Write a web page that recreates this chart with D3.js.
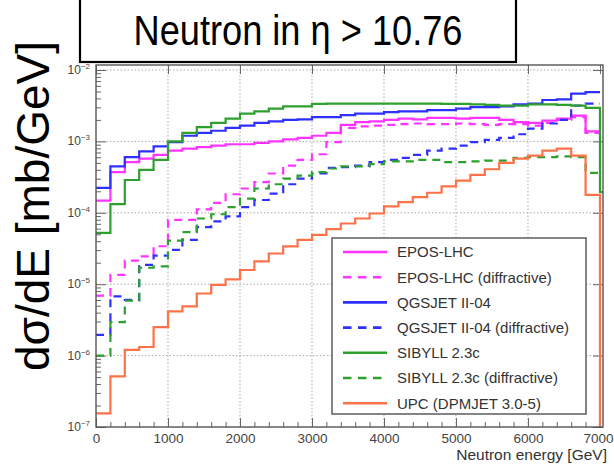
<!DOCTYPE html>
<html><head><meta charset="utf-8">
<script src="https://cdn.jsdelivr.net/npm/d3@7"></script>
<style>
body{margin:0;background:#fff;}
svg{display:block;font-family:"Liberation Sans",Arial,sans-serif;}
</style>
</head><body>
<svg id="c" width="614" height="465"></svg>
<script>
// ---------- data (bin width 200 GeV, bins start at 0) ----------
const binWidth = 200;
const eposLHC = [1.48e-4,3.72e-4,5.13e-4,5.75e-4,6.46e-4,7.41e-4,7.94e-4,8.32e-4,8.71e-4,9.12e-4,
  9.12e-4,9.55e-4,1.0e-3,1.07e-3,1.12e-3,1.20e-3,1.32e-3,1.70e-3,1.86e-3,1.91e-3,
  2.0e-3,2.09e-3,2.04e-3,2.14e-3,2.14e-3,2.09e-3,2.14e-3,2.14e-3,2.0e-3,1.86e-3,
  1.82e-3,1.95e-3,2.09e-3,2.29e-3,1.38e-3];
const eposLHCDiff = [6.9e-6,1.35e-5,2.14e-5,2.45e-5,3.4e-5,7.94e-5,7.94e-5,1.12e-4,1.38e-4,1.82e-4,
  2.19e-4,2.69e-4,3.55e-4,4.57e-4,5.50e-4,6.61e-4,9.8e-4,1.55e-3,1.62e-3,1.66e-3,
  1.70e-3,1.74e-3,1.78e-3,1.74e-3,1.74e-3,1.78e-3,1.74e-3,1.70e-3,1.74e-3,1.74e-3,
  1.66e-3,1.82e-3,2.0e-3,2.19e-3,1.32e-3];
const qgsjet = [2.24e-4,4.47e-4,6.03e-4,7.24e-4,8.51e-4,9.77e-4,1.20e-3,1.32e-3,1.41e-3,1.55e-3,
  1.66e-3,1.82e-3,1.91e-3,2.0e-3,2.04e-3,2.19e-3,2.19e-3,2.34e-3,2.45e-3,2.45e-3,
  2.57e-3,2.63e-3,2.63e-3,2.75e-3,2.75e-3,2.88e-3,3.02e-3,3.02e-3,3.09e-3,3.31e-3,
  3.39e-3,3.80e-3,3.89e-3,4.68e-3,4.90e-3];
const qgsjetDiff = [1.95e-6,6.76e-6,6.03e-6,1.86e-5,2.51e-5,3.02e-5,4.17e-5,6.31e-5,7.59e-5,8.91e-5,
  1.20e-4,1.51e-4,1.86e-4,2.51e-4,3.02e-4,3.55e-4,4.27e-4,4.37e-4,4.57e-4,5.13e-4,
  5.50e-4,5.89e-4,6.46e-4,7.41e-4,7.94e-4,8.71e-4,9.77e-4,1.05e-3,1.12e-3,1.26e-3,
  1.51e-3,1.78e-3,2.0e-3,3.16e-3,3.39e-3];
const sibyll = [5.25e-5,1.32e-4,2.88e-4,3.98e-4,5.50e-4,1.0e-3,1.32e-3,1.58e-3,1.82e-3,2.09e-3,
  2.45e-3,2.63e-3,2.88e-3,3.09e-3,3.09e-3,3.35e-3,3.39e-3,3.39e-3,3.39e-3,3.39e-3,
  3.39e-3,3.39e-3,3.39e-3,3.39e-3,3.35e-3,3.35e-3,3.31e-3,3.24e-3,3.16e-3,3.16e-3,
  3.31e-3,3.31e-3,3.24e-3,3.16e-3,2.95e-3,1.95e-4];
const sibyllDiff = [1.0e-6,2.95e-6,5.89e-6,1.70e-5,1.78e-5,4.07e-5,5.37e-5,8.32e-5,9.55e-5,1.20e-4,
  1.58e-4,2.19e-4,2.51e-4,3.02e-4,3.31e-4,3.72e-4,4.17e-4,4.47e-4,4.47e-4,4.79e-4,
  5.25e-4,5.25e-4,5.50e-4,5.50e-4,5.13e-4,5.13e-4,5.25e-4,5.37e-4,5.37e-4,5.89e-4,
  6.03e-4,6.03e-4,6.17e-4,6.03e-4,3.63e-4];
const upcDpmjet = [1.55e-7,5.13e-7,1.20e-6,1.32e-6,2.51e-6,4.17e-6,4.90e-6,7.41e-6,9.77e-6,1.17e-5,
  1.58e-5,2.09e-5,2.69e-5,3.39e-5,4.17e-5,4.90e-5,5.89e-5,7.08e-5,8.32e-5,9.77e-5,
  1.23e-4,1.41e-4,1.66e-4,1.91e-4,2.34e-4,2.82e-4,3.39e-4,4.07e-4,5.01e-4,5.75e-4,
  6.31e-4,7.41e-4,7.94e-4,6.31e-4,1.78e-4,1e-9];

const seriesNames = ["EPOS-LHC","EPOS-LHC (diffractive)","QGSJET II-04","QGSJET II-04 (diffractive)",
  "SIBYLL 2.3c","SIBYLL 2.3c (diffractive)","UPC (DPMJET 3.0-5)"];
const seriesValues = [eposLHC,eposLHCDiff,qgsjet,qgsjetDiff,sibyll,sibyllDiff,upcDpmjet];
const seriesColors = ["#ff33ff","#ff33ff","#2f2fff","#2f2fff","#2ea02e","#2ea02e","#ff7248"];
const seriesDashed = [false,true,false,true,false,true,false];

const xTicks = [0,1000,2000,3000,4000,5000,6000,7000];
const yTickExps = [-7,-6,-5,-4,-3,-2];
const titleText = "Neutron in η > 10.76";
const yLabelText = "dσ/dE [mb/GeV]";
const xLabelText = "Neutron energy [GeV]";

// ---------- layout ----------
const svg = d3.select("#c");
const P = {l:96, r:603, t:65, b:427};
const x = d3.scaleLinear().domain([0,7042]).range([P.l,P.r]);
const y = d3.scaleLog().domain([1e-7, Math.pow(10,-1.93)]).range([P.b,P.t]);

svg.append("rect").attr("x",P.l).attr("y",P.t).attr("width",P.r-P.l).attr("height",P.b-P.t)
  .attr("fill","#fff");

// grid
const g = svg.append("g");
g.selectAll(".gx").data(xTicks.filter(d=>d>0&&d<7000)).enter().append("line")
  .attr("x1",d=>x(d)).attr("x2",d=>x(d)).attr("y1",P.t).attr("y2",P.b)
  .attr("stroke","#aaa").attr("stroke-width",1).attr("stroke-dasharray","1.5,2");
g.selectAll(".gy").data(yTickExps.filter(e=>e>-7)).enter().append("line")
  .attr("x1",P.l).attr("x2",P.r).attr("y1",e=>y(Math.pow(10,e))).attr("y2",e=>y(Math.pow(10,e)))
  .attr("stroke","#aaa").attr("stroke-width",1).attr("stroke-dasharray","1.5,2");

// axes ticks (inside)
const minorX = d3.range(0,7001,200).filter(d=>d%1000!==0);
const axB = svg.append("g").attr("transform",`translate(0,${P.b})`)
  .call(d3.axisBottom(x).tickValues(xTicks).tickFormat(d3.format("d"))
    .tickSizeInner(-9).tickSizeOuter(0).tickPadding(6));
svg.append("g").attr("transform",`translate(0,${P.b})`)
  .call(d3.axisBottom(x).tickValues(minorX).tickSizeInner(-5).tickSizeOuter(0).tickFormat(""));
svg.append("g").attr("transform",`translate(0,${P.t})`)
  .call(d3.axisTop(x).tickValues(xTicks).tickSizeInner(-9).tickSizeOuter(0).tickFormat(""));
const decVals = yTickExps.map(e=>Math.pow(10,e));
const minorYv = [];
yTickExps.forEach(e=>{ if(e<-2) for(let m=2;m<=9;m++) minorYv.push(m*Math.pow(10,e)); });
svg.append("g").attr("transform",`translate(${P.l},0)`)
  .call(d3.axisLeft(y).tickValues(decVals).tickSizeInner(-10).tickSizeOuter(0).tickFormat(""));
svg.append("g").attr("transform",`translate(${P.l},0)`)
  .call(d3.axisLeft(y).tickValues(minorYv).tickSizeInner(-5).tickSizeOuter(0).tickFormat(""));
svg.append("g").attr("transform",`translate(${P.r},0)`)
  .call(d3.axisRight(y).tickValues(decVals).tickSizeInner(-10).tickSizeOuter(0).tickFormat(""));
svg.selectAll(".domain").remove();
svg.selectAll(".tick line").attr("stroke","#666");
axB.selectAll("text").attr("font-size",13.5).attr("fill","#444");
// keep last label inside the picture edge
axB.selectAll(".tick").filter(d=>d===7000).select("text").attr("text-anchor","end").attr("x",13);

// y tick labels 10^n
const yl = svg.append("g");
yTickExps.forEach(e=>{
  const t = yl.append("text").attr("x",P.l-6).attr("y",y(Math.pow(10,e))+4)
    .attr("text-anchor","end").attr("fill","#444").attr("font-size",12);
  t.append("tspan").text("10");
  t.append("tspan").attr("dy",-5).attr("font-size",8).text(String(e).replace("-","−"));
});

// histograms
svg.append("clipPath").attr("id","pc").append("rect")
  .attr("x",P.l).attr("y",P.t).attr("width",P.r-P.l).attr("height",P.b-P.t);
const line = d3.line().x(d=>x(d[0])).y(d=>y(d[1])).curve(d3.curveStepAfter);
const hg = svg.append("g").attr("clip-path","url(#pc)");
seriesValues.forEach((vals,i)=>{
  const pts = vals.map((v,k)=>[k*binWidth,v]);
  pts.push([vals.length*binWidth, vals[vals.length-1]]);
  hg.append("path").attr("d",line(pts)).attr("fill","none")
    .attr("stroke",seriesColors[i]).attr("stroke-width",2.2)
    .attr("stroke-dasharray",seriesDashed[i]?"8,6":null);
});

// frame
svg.append("rect").attr("x",P.l).attr("y",P.t).attr("width",P.r-P.l).attr("height",P.b-P.t)
  .attr("fill","none").attr("stroke","#555").attr("stroke-width",1.4);

// legend
const L = {x:332,y:238,w:254,h:176};
svg.append("rect").attr("x",L.x).attr("y",L.y).attr("width",L.w).attr("height",L.h)
  .attr("fill","#fff").attr("stroke","#666").attr("stroke-width",1.6);
seriesNames.forEach((nm,i)=>{
  const yy = 252 + i*25.2;
  svg.append("line").attr("x1",343).attr("x2",387).attr("y1",yy).attr("y2",yy)
    .attr("stroke",seriesColors[i]).attr("stroke-width",2.6)
    .attr("stroke-dasharray",seriesDashed[i]?"8.5,6.5":null);
  svg.append("text").attr("x",397).attr("y",yy).attr("dy","0.36em")
    .attr("font-size",15).attr("fill","#333").text(nm);
});

// x label
svg.append("text").attr("x",607).attr("y",460).attr("text-anchor","end")
  .attr("font-size",15.5).attr("fill","#333").text(xLabelText);

// y label
svg.append("text").attr("transform","translate(49,206) rotate(-90)")
  .attr("text-anchor","middle").attr("font-size",46).attr("fill","#000").text(yLabelText);

// title box
svg.append("rect").attr("x",80).attr("y",-3).attr("width",436).attr("height",65)
  .attr("fill","#fff").attr("stroke","#000").attr("stroke-width",2.2);
svg.append("text").attr("x",298).attr("y",45).attr("text-anchor","middle")
  .attr("font-family","'Liberation Sans Narrow','Liberation Sans',Arial,sans-serif")
  .attr("font-size",43).attr("fill","#000")
  .attr("textLength",329).attr("lengthAdjust","spacingAndGlyphs").text(titleText);
</script>
</body></html>
